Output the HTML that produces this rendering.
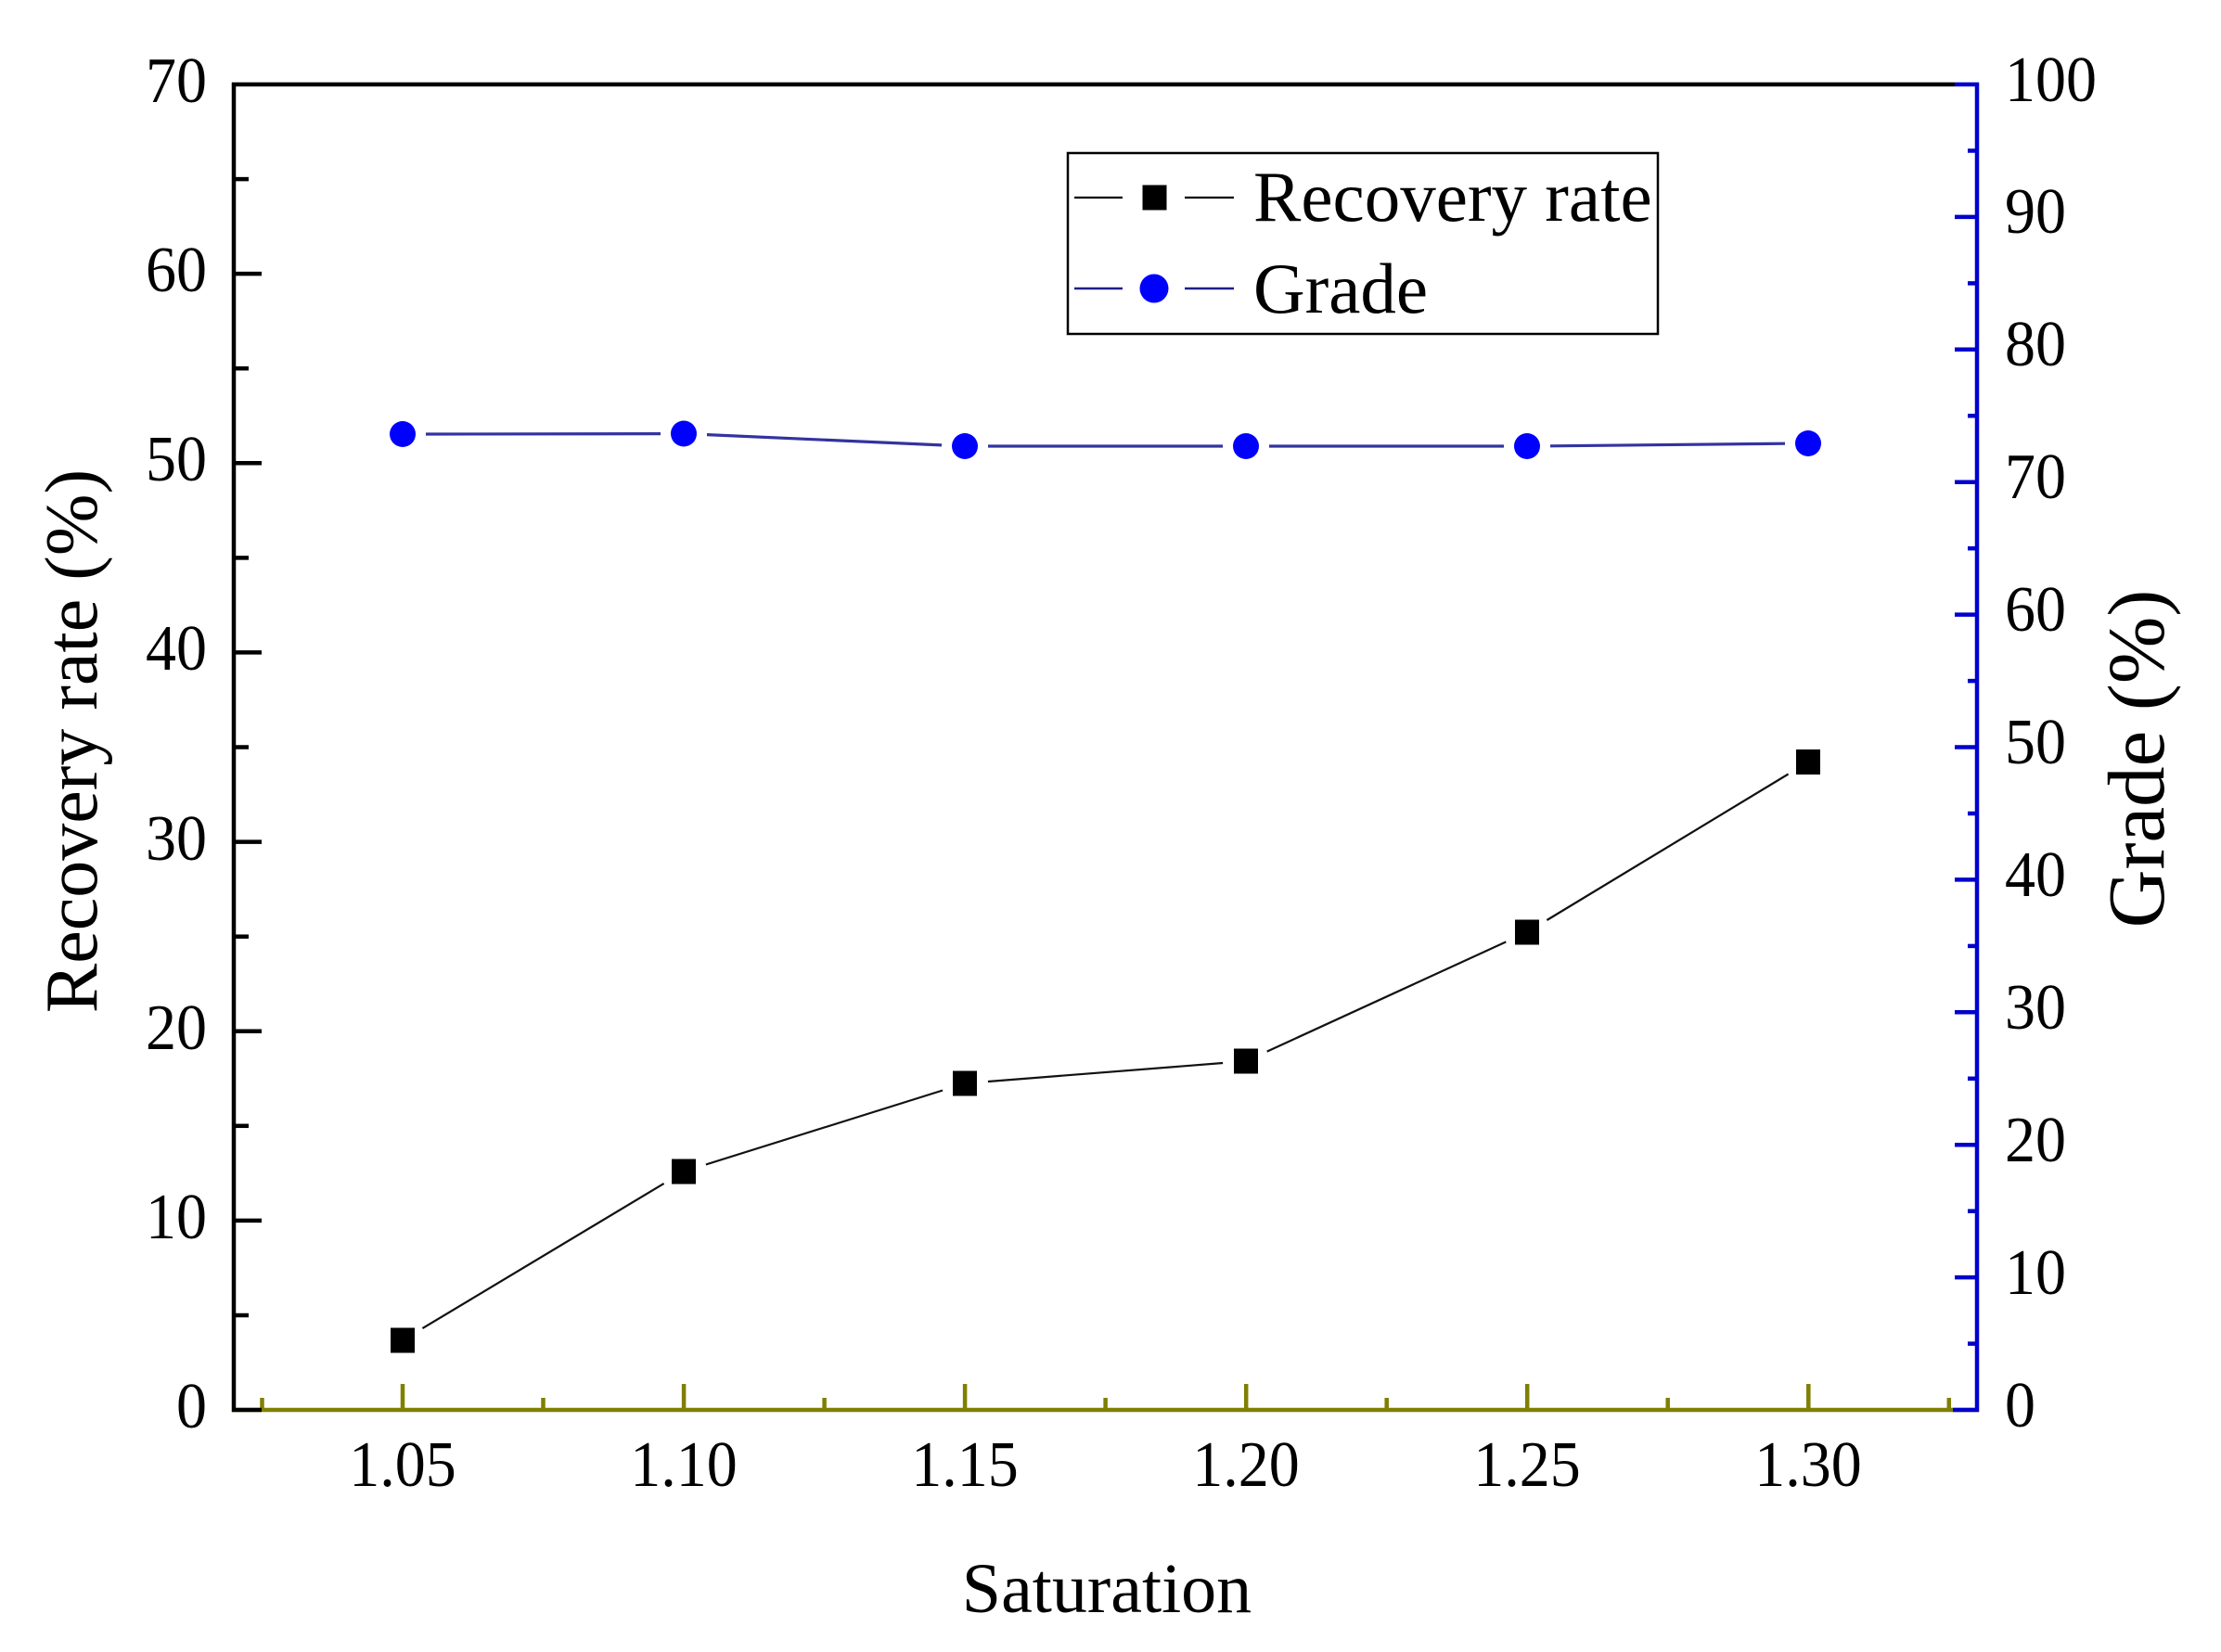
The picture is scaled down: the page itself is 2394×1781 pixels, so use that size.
<!DOCTYPE html>
<html>
<head>
<meta charset="utf-8">
<style>
html,body{margin:0;padding:0;background:#fff;}
svg{display:block;}
text{font-family:"Liberation Serif","Times New Roman",serif;fill:#000;}
</style>
</head>
<body>
<svg width="2394" height="1781" viewBox="0 0 2394 1781" xmlns="http://www.w3.org/2000/svg">
<rect width="2394" height="1781" fill="#fff"/>

<!-- Left axis ticks (black) -->
<g stroke="#000" stroke-width="4.5">
  <line x1="252" y1="1315.9" x2="282" y2="1315.9"/>
  <line x1="252" y1="1111.7" x2="282" y2="1111.7"/>
  <line x1="252" y1="907.6" x2="282" y2="907.6"/>
  <line x1="252" y1="703.4" x2="282" y2="703.4"/>
  <line x1="252" y1="499.3" x2="282" y2="499.3"/>
  <line x1="252" y1="295.1" x2="282" y2="295.1"/>
  <line x1="252" y1="1418" x2="268" y2="1418"/>
  <line x1="252" y1="1213.8" x2="268" y2="1213.8"/>
  <line x1="252" y1="1009.7" x2="268" y2="1009.7"/>
  <line x1="252" y1="805.5" x2="268" y2="805.5"/>
  <line x1="252" y1="601.4" x2="268" y2="601.4"/>
  <line x1="252" y1="397.2" x2="268" y2="397.2"/>
  <line x1="252" y1="193.1" x2="268" y2="193.1"/>
</g>

<!-- Right axis ticks (blue) -->
<g stroke="#0000cc" stroke-width="4.5">
  <line x1="2107" y1="1377.1" x2="2131" y2="1377.1"/>
  <line x1="2107" y1="1234.2" x2="2131" y2="1234.2"/>
  <line x1="2107" y1="1091.3" x2="2131" y2="1091.3"/>
  <line x1="2107" y1="948.4" x2="2131" y2="948.4"/>
  <line x1="2107" y1="805.5" x2="2131" y2="805.5"/>
  <line x1="2107" y1="662.6" x2="2131" y2="662.6"/>
  <line x1="2107" y1="519.7" x2="2131" y2="519.7"/>
  <line x1="2107" y1="376.8" x2="2131" y2="376.8"/>
  <line x1="2107" y1="233.9" x2="2131" y2="233.9"/>
  <line x1="2121" y1="1448.6" x2="2131" y2="1448.6"/>
  <line x1="2121" y1="1305.7" x2="2131" y2="1305.7"/>
  <line x1="2121" y1="1162.8" x2="2131" y2="1162.8"/>
  <line x1="2121" y1="1019.9" x2="2131" y2="1019.9"/>
  <line x1="2121" y1="877" x2="2131" y2="877"/>
  <line x1="2121" y1="734.1" x2="2131" y2="734.1"/>
  <line x1="2121" y1="591.2" x2="2131" y2="591.2"/>
  <line x1="2121" y1="448.3" x2="2131" y2="448.3"/>
  <line x1="2121" y1="305.4" x2="2131" y2="305.4"/>
  <line x1="2121" y1="162.5" x2="2131" y2="162.5"/>
</g>

<!-- Bottom axis ticks (olive) -->
<g stroke="#7f7f00" stroke-width="4.5">
  <line x1="434" y1="1492" x2="434" y2="1520"/>
  <line x1="737.1" y1="1492" x2="737.1" y2="1520"/>
  <line x1="1040.1" y1="1492" x2="1040.1" y2="1520"/>
  <line x1="1343.2" y1="1492" x2="1343.2" y2="1520"/>
  <line x1="1646.2" y1="1492" x2="1646.2" y2="1520"/>
  <line x1="1949.3" y1="1492" x2="1949.3" y2="1520"/>
  <line x1="282.5" y1="1507" x2="282.5" y2="1520"/>
  <line x1="585.5" y1="1507" x2="585.5" y2="1520"/>
  <line x1="888.6" y1="1507" x2="888.6" y2="1520"/>
  <line x1="1191.6" y1="1507" x2="1191.6" y2="1520"/>
  <line x1="1494.7" y1="1507" x2="1494.7" y2="1520"/>
  <line x1="1797.7" y1="1507" x2="1797.7" y2="1520"/>
  <line x1="2100.8" y1="1507" x2="2100.8" y2="1520"/>
</g>

<!-- Axis lines -->
<line x1="250" y1="1520" x2="2133" y2="1520" stroke="#7f7f00" stroke-width="4.5"/>
<line x1="250" y1="1520" x2="282" y2="1520" stroke="#000" stroke-width="4.5"/>
<line x1="2105" y1="1520" x2="2133" y2="1520" stroke="#0000cc" stroke-width="4.5"/>
<line x1="250" y1="91" x2="2107" y2="91" stroke="#000" stroke-width="4.5"/>
<line x1="2107" y1="91" x2="2133" y2="91" stroke="#0000cc" stroke-width="4.5"/>
<line x1="252" y1="89" x2="252" y2="1522" stroke="#000" stroke-width="4.5"/>
<line x1="2131" y1="89" x2="2131" y2="1522" stroke="#0000cc" stroke-width="4.5"/>

<!-- Left tick labels -->
<g font-size="66" text-anchor="end">
  <text transform="translate(223,1539) scale(1,1.06)">0</text>
  <text transform="translate(223,1335) scale(1,1.06)">10</text>
  <text transform="translate(223,1131) scale(1,1.06)">20</text>
  <text transform="translate(223,927) scale(1,1.06)">30</text>
  <text transform="translate(223,722) scale(1,1.06)">40</text>
  <text transform="translate(223,518) scale(1,1.06)">50</text>
  <text transform="translate(223,314) scale(1,1.06)">60</text>
  <text transform="translate(223,110) scale(1,1.06)">70</text>
</g>

<!-- Right tick labels -->
<g font-size="66" text-anchor="start">
  <text transform="translate(2161,1538) scale(1,1.06)">0</text>
  <text transform="translate(2161,1395) scale(1,1.06)">10</text>
  <text transform="translate(2161,1252) scale(1,1.06)">20</text>
  <text transform="translate(2161,1109) scale(1,1.06)">30</text>
  <text transform="translate(2161,966) scale(1,1.06)">40</text>
  <text transform="translate(2161,823) scale(1,1.06)">50</text>
  <text transform="translate(2161,680) scale(1,1.06)">60</text>
  <text transform="translate(2161,537) scale(1,1.06)">70</text>
  <text transform="translate(2161,394) scale(1,1.06)">80</text>
  <text transform="translate(2161,251) scale(1,1.06)">90</text>
  <text transform="translate(2161,109) scale(1,1.06)">100</text>
</g>

<!-- Bottom tick labels -->
<g font-size="66" text-anchor="middle">
  <text transform="translate(434,1602) scale(1,1.06)">1.05</text>
  <text transform="translate(737,1602) scale(1,1.06)">1.10</text>
  <text transform="translate(1040,1602) scale(1,1.06)">1.15</text>
  <text transform="translate(1343,1602) scale(1,1.06)">1.20</text>
  <text transform="translate(1646,1602) scale(1,1.06)">1.25</text>
  <text transform="translate(1949,1602) scale(1,1.06)">1.30</text>
</g>

<!-- Axis titles -->
<text x="1193" y="1738" font-size="76" text-anchor="middle">Saturation</text>
<text transform="translate(104,799) rotate(-90)" font-size="80" text-anchor="middle">Recovery rate (%)</text>
<text transform="translate(2332,818) rotate(-90)" font-size="87" text-anchor="middle">Grade (%)</text>

<!-- Recovery line (black) -->
<g stroke="#111" stroke-width="2.2" fill="none">
  <line x1="455.4" y1="1432.1" x2="715.6" y2="1275.9"/>
  <line x1="760.9" y1="1255.5" x2="1016.1" y2="1175.5"/>
  <line x1="1064.9" y1="1166" x2="1318.1" y2="1146"/>
  <line x1="1365.7" y1="1133.6" x2="1623.3" y2="1015.4"/>
  <line x1="1667.4" y1="992" x2="1927.6" y2="834.5"/>
</g>
<g fill="#000">
  <rect x="421" y="1431.5" width="26" height="27"/>
  <rect x="724" y="1249.5" width="26" height="27"/>
  <rect x="1027" y="1154.5" width="26" height="27"/>
  <rect x="1330" y="1130.5" width="26" height="27"/>
  <rect x="1633" y="991.5" width="26" height="27"/>
  <rect x="1936" y="808" width="26" height="27"/>
</g>

<!-- Grade line (navy) -->
<g stroke="#3333a0" stroke-width="3.2" fill="none">
  <line x1="459" y1="468" x2="712" y2="467.6"/>
  <line x1="762" y1="468.6" x2="1015" y2="479.9"/>
  <line x1="1065" y1="481" x2="1318" y2="481"/>
  <line x1="1368" y1="481" x2="1621" y2="481"/>
  <line x1="1671" y1="480.8" x2="1924" y2="478.2"/>
</g>
<g fill="#0000ff">
  <circle cx="434" cy="468" r="14"/>
  <circle cx="737" cy="467.5" r="14"/>
  <circle cx="1040" cy="481" r="14"/>
  <circle cx="1343" cy="481" r="14"/>
  <circle cx="1646" cy="481" r="14"/>
  <circle cx="1949" cy="478" r="14"/>
</g>

<!-- Legend -->
<rect x="1151" y="165" width="636" height="195" fill="#fff" stroke="#000" stroke-width="2.5"/>
<g stroke="#000" stroke-width="2.2">
  <line x1="1158" y1="213" x2="1210" y2="213"/>
  <line x1="1277" y1="213" x2="1330" y2="213"/>
</g>
<rect x="1231.5" y="199.5" width="26" height="27" fill="#000"/>
<text x="1351" y="238" font-size="77">Recovery rate</text>
<g stroke="#1e1e8a" stroke-width="2.6">
  <line x1="1158" y1="311" x2="1210" y2="311"/>
  <line x1="1277" y1="311" x2="1330" y2="311"/>
</g>
<circle cx="1244" cy="311" r="15.5" fill="#0000ff"/>
<text x="1351" y="337" font-size="77">Grade</text>
</svg>
</body>
</html>
